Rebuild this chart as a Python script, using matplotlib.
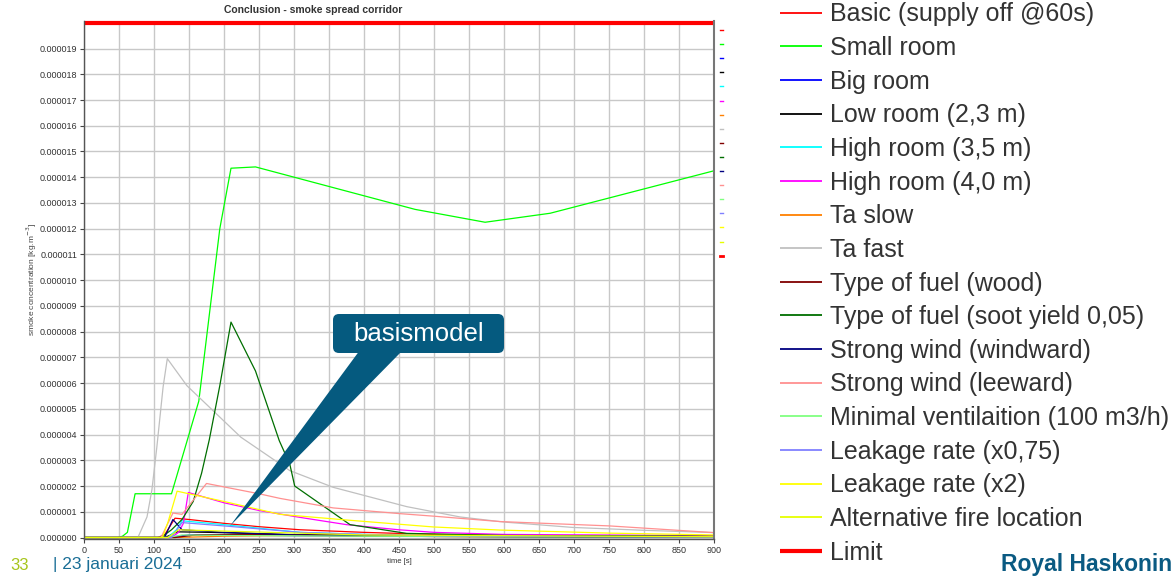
import matplotlib
matplotlib.use('Agg')
import matplotlib.pyplot as plt
from matplotlib.patches import FancyBboxPatch, Polygon
from matplotlib.transforms import Affine2D

plt.rcParams['font.family'] = ['Liberation Sans', 'DejaVu Sans']

SCALE = 1e-6  # values below are in 1e-6 kg/m3

# ---------------- data ----------------
basic_t = [0, 105, 115, 122, 130, 150, 200, 250, 309, 400, 500, 600, 700, 800, 900]
basic_v = [0, 0, 0.1, 0.4, 0.75, 0.7, 0.55, 0.42, 0.3, 0.2, 0.12, 0.08, 0.05, 0.03, 0.02]

small_t = [0, 48, 55, 62, 73, 125, 164, 194, 210, 245, 473, 573, 666, 900]
small_v = [0, 0, 0.05, 0.2, 1.7, 1.7, 5.3, 12.0, 14.35, 14.4, 12.75, 12.25, 12.6, 14.25]

big_t = [0, 110, 130, 150, 200, 300, 500, 700, 900]
big_v = [0, 0, 0.03, 0.1, 0.1, 0.07, 0.05, 0.03, 0.02]

low_t = [0, 110, 120, 133, 180, 250, 309, 400, 500, 700, 900]
low_v = [0, 0, 0.05, 0.22, 0.2, 0.15, 0.1, 0.06, 0.04, 0.02, 0.01]

high35_t = [0, 120, 132, 140, 200, 309, 400, 500, 600, 900]
high35_v = [0, 0, 0.3, 0.65, 0.5, 0.2, 0.12, 0.06, 0.03, 0.01]

high40_t = [0, 125, 135, 142, 149, 200, 250, 309, 375, 450, 500, 600, 730, 900]
high40_v = [0, 0, 0.2, 0.55, 1.75, 1.35, 1.05, 0.78, 0.5, 0.3, 0.2, 0.12, 0.1, 0.07]

taslow_t = [0, 130, 200, 300, 400, 500, 600, 900]
taslow_v = [0, 0, 0.05, 0.08, 0.06, 0.04, 0.03, 0.02]

tafast_t = [0, 77, 90, 97, 104, 113, 119, 147, 224, 294, 356, 461, 537, 600, 699, 800, 900]
tafast_v = [0, 0, 0.8, 1.85, 3.5, 5.85, 6.95, 5.9, 3.9, 2.6, 1.95, 1.2, 0.8, 0.6, 0.39, 0.28, 0.19]

wood_t = [0, 130, 160, 250, 400, 500, 700, 900]
wood_v = [0, 0, 0.1, 0.12, 0.1, 0.07, 0.04, 0.02]

soot_t = [0, 110, 125, 140, 156, 168, 179, 194, 210, 245, 279, 294, 301, 380, 461, 600, 900]
soot_v = [0, 0, 0.3, 0.7, 1.4, 2.5, 3.8, 5.9, 8.37, 6.47, 3.76, 2.85, 2.0, 0.5, 0.16, 0.08, 0.05]

windward_t = [0, 115, 127, 140, 200, 300, 500, 900]
windward_v = [0, 0, 0.7, 0.3, 0.2, 0.1, 0.05, 0.02]

leeward_t = [0, 110, 127, 140, 175, 250, 280, 356, 450, 499, 594, 751, 900]
leeward_v = [0, 0, 0.95, 0.9, 2.1, 1.7, 1.52, 1.15, 0.93, 0.83, 0.62, 0.45, 0.19]

minvent_t = [0, 120, 140, 200, 400, 900]
minvent_v = [0, 0, 0.1, 0.08, 0.05, 0.02]

leak075_t = [0, 125, 140, 200, 309, 400, 500, 900]
leak075_v = [0, 0, 0.58, 0.45, 0.2, 0.12, 0.07, 0.02]

leak2_t = [0, 112, 120, 133, 200, 280, 375, 499, 594, 751, 900]
leak2_v = [0, 0, 0.6, 1.8, 1.4, 0.9, 0.68, 0.41, 0.29, 0.17, 0.1]

altfire_t = [0, 120, 135, 200, 400, 900]
altfire_v = [0, 0, 0.3, 0.25, 0.1, 0.03]

limit_t = [0, 900]
limit_v = [20, 20]

labels = ['Basic (supply off @60s)', 'Small room', 'Big room', 'Low room (2,3 m)',
          'High room (3,5 m)', 'High room (4,0 m)', 'Ta slow', 'Ta fast',
          'Type of fuel (wood)', 'Type of fuel (soot yield 0,05)',
          'Strong wind (windward)', 'Strong wind (leeward)',
          'Minimal ventilaition (100 m3/h)', 'Leakage rate (x0,75)',
          'Leakage rate (x2)', 'Alternative fire location', 'Limit']
colors = ['#ff0000', '#00ff00', '#0000ff', '#000000', '#00ffff', '#ff00ff',
          '#ff8000', '#c0c0c0', '#800000', '#006e00', '#000080', '#ff9090',
          '#80ff80', '#8080ff', '#ffff00', '#e6ff00', '#ff0000']
series = [(basic_t, basic_v), (small_t, small_v), (big_t, big_v), (low_t, low_v),
          (high35_t, high35_v), (high40_t, high40_v), (taslow_t, taslow_v),
          (tafast_t, tafast_v), (wood_t, wood_v), (soot_t, soot_v),
          (windward_t, windward_v), (leeward_t, leeward_v), (minvent_t, minvent_v),
          (leak075_t, leak075_v), (leak2_t, leak2_v), (altfire_t, altfire_v),
          (limit_t, limit_v)]

xticks = list(range(0, 901, 50))
yticks_u = list(range(0, 20))

# ---------------- figure ----------------
W, H = 1174, 576
fig = plt.figure(figsize=(W / 100, H / 100), dpi=100)
ax = fig.add_axes([84 / W, 1 - 539 / H, 630 / W, 518 / H])

handles = []
for (t, v), lab, c in zip(series, labels, colors):
    lw = 3.0 if lab == 'Limit' else 0.9
    h, = ax.plot(t, [x * SCALE for x in v], color=c, lw=lw, label=lab,
                 clip_on=(lab != 'Limit'), solid_capstyle='butt')
    handles.append(h)

ax.set_xlim(0, 900)
ax.set_ylim(-0.058e-6, 20.07e-6)
ax.set_xticks(xticks)
ax.set_xticklabels([str(x) for x in xticks])
ax.set_yticks([y * SCALE for y in yticks_u])
ax.set_yticklabels([f"{y * SCALE:.6f}" for y in yticks_u])
ax.tick_params(labelsize=6.5, colors='#444444', labelcolor='#333333', length=3, width=0.8, pad=2)
ax.set_axisbelow(True)
ax.grid(True, color='#c8c8c8', lw=1.0)
for s in ['left', 'bottom']:
    ax.spines[s].set_color('#555555')
    ax.spines[s].set_linewidth(1.0)
ax.spines['right'].set_color('#777777')
ax.spines['right'].set_linewidth(1.5)
ax.spines['top'].set_visible(False)

ax.set_xlabel('time [s]', fontsize=5.5, color='#333333', labelpad=2)
ax.set_ylabel('smoke concentration [kg.m$^{-3}$]', fontsize=6, color='#444444')
ax.yaxis.set_label_coords((39 - 84) / 630, 0.5)

# small colour marks at the right of the plot
for i, c in enumerate(colors):
    ypx = 30 + i * 14.1 if i < 16 else 256
    ya = (539 - ypx) / 518
    ax.plot([1.0095, 1.0135], [ya, ya], transform=ax.transAxes, color=c,
            lw=1.0 if i < 16 else 2.0, clip_on=False)

fig.text(313 / W, 1 - 10 / H, 'Conclusion - smoke spread corridor', ha='center', va='center',
         fontsize=7.5, fontweight='bold', color='#333333')

# legend
leg = fig.legend(handles, labels, loc='upper left', bbox_to_anchor=(780 / W, 1 - 2.5 / H),
                 frameon=False, fontsize=18, handlelength=1.68, handletextpad=0.32,
                 labelspacing=0.385, borderaxespad=0, borderpad=0, labelcolor='#333333')
for lh in leg.get_lines()[:-1]:
    lh.set_linewidth(1.3)

# callout
pix = Affine2D().scale(1, -1).translate(0, H)
callout_col = '#055a7f'
box = FancyBboxPatch((333, 314), 171, 39, boxstyle='round,pad=0,rounding_size=6',
                     transform=pix, facecolor=callout_col, edgecolor='none')
wedge = Polygon([(360, 350), (403, 350), (230, 526)], closed=True, transform=pix,
                facecolor=callout_col, edgecolor='none')
fig.add_artist(wedge)
fig.add_artist(box)
fig.text(418.5 / W, 1 - 334 / H, 'basismodel', ha='center', va='center', fontsize=18.5, color='white')

# footer
fig.text(10 / W, 1 - 565 / H, '33', ha='left', va='center', fontsize=12, color='#a6c51a')
fig.text(53 / W, 1 - 565 / H, '| 23 januari 2024', ha='left', va='center', fontsize=12.5, color='#1a6e96')
fig.text(1172 / W, 1 - 565 / H, 'Royal Haskonin', ha='right', va='center', fontsize=16.5,
         fontweight='bold', color='#0a5a82')

fig.savefig('out.png', dpi=100)
